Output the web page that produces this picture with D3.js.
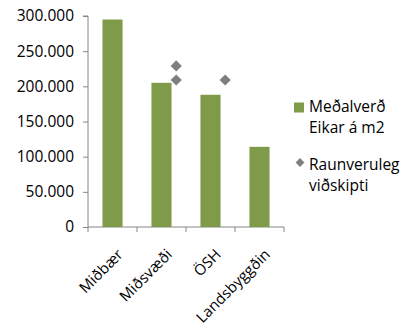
<!DOCTYPE html>
<html><head><meta charset="utf-8">
<script src="https://cdn.jsdelivr.net/npm/d3@7"></script>
<style>body{margin:0;background:#fff}svg{display:block}</style>
</head><body>
<svg id="c" width="408" height="330"></svg>
<script>
const categories = ["Miðbær","Miðsvæði","ÖSH","Landsbyggðin"];
const avgValues = [295000, 205000, 188000, 114000];
const actualCats = ["Miðsvæði","Miðsvæði","ÖSH"];
const actualValues = [229000, 209000, 209000];
const yTicks = [0,50000,100000,150000,200000,250000,300000];
const legendLabels = [["Meðalverð","Eikar á m2"],["Raunveruleg","viðskipti"]];

const svg = d3.select("#c");
const font = "'Open Sans', sans-serif";
const fs = 15.5;
const m = {left:88, right:284, top:16, bottom:227};
const x = d3.scaleBand().domain(categories).range([m.left, m.right]).paddingInner(0.59).paddingOuter(0.295);
const xb = d3.scaleBand().domain(categories).range([m.left, m.right]);
const y = d3.scaleLinear().domain([0,300000]).range([m.bottom, m.top]);
const fmt = v => v===0 ? "0" : d3.format(",")(v).replace(/,/g,".");

// y axis
const ya = svg.append("g").attr("transform",`translate(${m.left},0)`)
  .call(d3.axisLeft(y).tickValues(yTicks).tickSize(5).tickPadding(9).tickFormat(fmt));
ya.selectAll("path,line").attr("stroke","#868686");
ya.select("path").attr("d",`M-5,${y(300000)}H0V${m.bottom}`);
ya.selectAll("text").attr("font-family",font).attr("font-size",fs).attr("fill","#000");

// x axis
const xa = svg.append("g").attr("transform",`translate(0,${m.bottom})`)
  .call(d3.axisBottom(xb).tickSize(0).tickFormat(""));
xa.select("path").attr("stroke","#868686").attr("d",`M${m.left},0H${m.right}`);
const bounds = d3.range(categories.length+1).map(i => m.left + i*xb.step());
svg.append("g").selectAll("line").data(bounds).join("line")
  .attr("x1",d=>d).attr("x2",d=>d).attr("y1",m.bottom).attr("y2",m.bottom+5).attr("stroke","#868686");
svg.append("g").selectAll("text").data(categories).join("text")
  .attr("transform",d=>`translate(${xb(d)+xb.bandwidth()/2+4},${m.bottom+21}) rotate(-45)`)
  .attr("text-anchor","end").attr("dy","0.7em")
  .attr("font-family",font).attr("font-size",15).attr("fill","#000").text(d=>d);

// bars
svg.append("g").selectAll("rect").data(avgValues).join("rect")
  .attr("x",(d,i)=>x(categories[i])).attr("width",x.bandwidth())
  .attr("y",d=>y(d)).attr("height",d=>m.bottom-y(d)).attr("fill","#7f9a48");

// diamonds
const diamond = d3.symbol().type(d3.symbolDiamond2).size(80);
svg.append("g").selectAll("path").data(actualValues).join("path")
  .attr("d",diamond)
  .attr("transform",(d,i)=>`translate(${xb(actualCats[i])+xb.bandwidth()*0.8},${y(d)})`)
  .attr("fill","#7f7f7f");

// legend
const lg = svg.append("g");
lg.append("rect").attr("x",294).attr("y",102.5).attr("width",10).attr("height",10).attr("fill","#7f9a48");
lg.append("path").attr("d",d3.symbol().type(d3.symbolDiamond2).size(50))
  .attr("transform","translate(300,162.5)").attr("fill","#7f7f7f");
const lt = [[112,133],[170,191]];
legendLabels.forEach((ls,i)=>ls.forEach((t,j)=>{
  lg.append("text").attr("x",309).attr("y",lt[i][j]).attr("font-family",font)
    .attr("font-size",fs).attr("fill","#000").text(t);
}));
</script>
</body></html>
